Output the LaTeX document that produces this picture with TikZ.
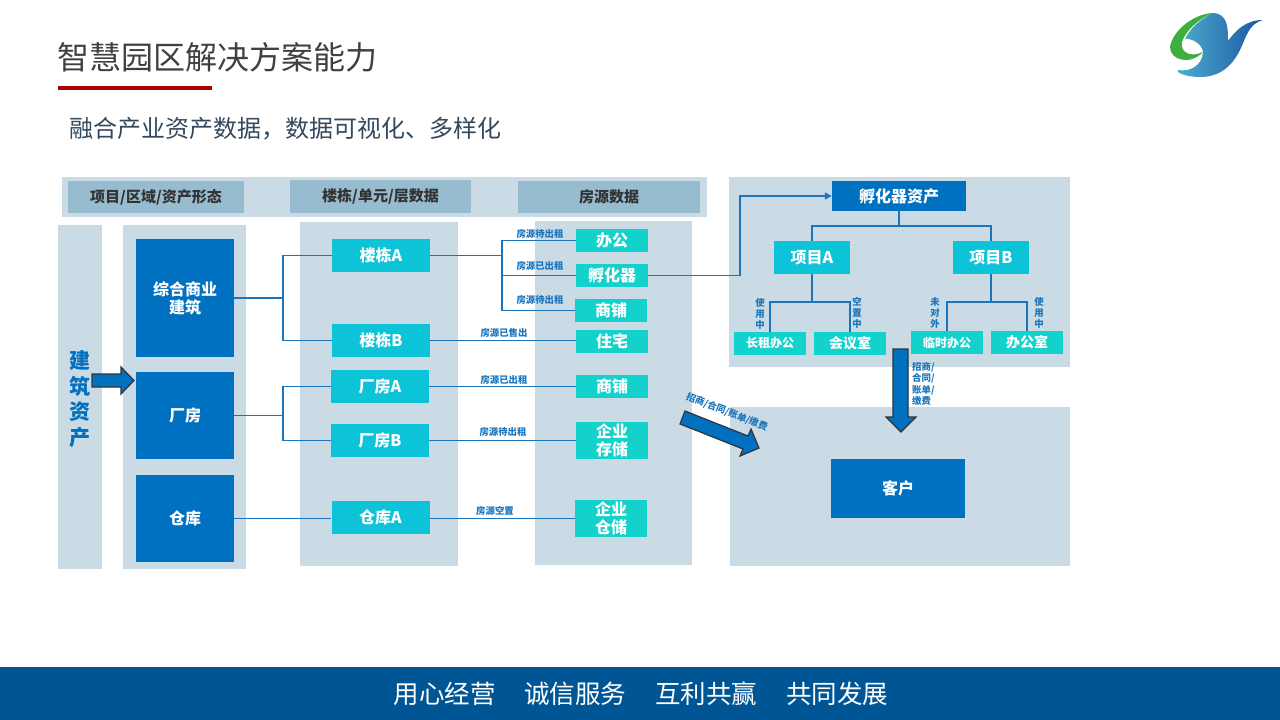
\documentclass[tikz,border=0pt]{standalone}
\usepackage{fontspec}
\setmainfont{Noto Sans CJK SC}
\usetikzlibrary{arrows.meta, positioning}
\definecolor{panelc}{HTML}{CADBE6}
\definecolor{headc}{HTML}{97BBCF}
\definecolor{darkc}{HTML}{0070C0}
\definecolor{tealc}{HTML}{0DC3D8}
\definecolor{mintc}{HTML}{13D1CB}
\definecolor{linec}{HTML}{1B75BC}
\definecolor{footc}{HTML}{005695}
\definecolor{titlec}{HTML}{404040}
\definecolor{subc}{HTML}{34495E}
\definecolor{leafc}{HTML}{3DAE3F}
\definecolor{birdl}{HTML}{4FB0CE}
\definecolor{birdr}{HTML}{1C55A5}
\begin{document}
\begin{tikzpicture}[
    x=1pt, y=-1pt,
    panel/.style={fill=panelc, draw=none},
    box/.style={align=center, inner sep=0pt, text=white, font=\fontsize{16}{18}\selectfont\bfseries},
    head/.style={box, fill=headc, text=black!80, font=\fontsize{15}{17}\selectfont\bfseries},
    asset/.style={box, fill=darkc, minimum width=98pt},
    build/.style={box, fill=tealc, minimum width=98pt, minimum height=33pt},
    room/.style={box, fill=mintc, minimum width=72pt, minimum height=23pt},
    proj/.style={box, fill=tealc, minimum width=76pt, minimum height=33pt},
    lab/.style={inner sep=0pt, text=linec, align=center, font=\fontsize{9.4}{11}\selectfont\bfseries},
    conn/.style={linec, line width=1.5pt},
    fat/.style={fill=darkc, draw=black!80, line width=1.2pt, line join=miter},
  ]
    \useasboundingbox (0,0) rectangle (1280,720);
    % title
    \node[anchor=west, inner sep=0pt, text=titlec, font=\fontsize{32}{36}\selectfont] (title) at (57,57) {智慧园区解决方案能力};
    \fill[fill=red!65!black] (58,86) rectangle (212,90);
    \node[anchor=west, inner sep=0pt, text=subc, font=\fontsize{24}{28}\selectfont] (sub) at (69,129) {融合产业资产数据，数据可视化、多样化};

    % logo
    \fill[leafc]
      (1212,13) .. controls (1190,15) and (1172,33) .. (1170,47)
      .. controls (1170,60) and (1190,66) .. (1203,52)
      .. controls (1190,58) and (1180,52) .. (1182,42)
      .. controls (1186,30) and (1198,20) .. (1212,13) -- cycle;
    \shade[left color=birdl, right color=birdr]
      (1212,13) .. controls (1228,13) and (1228,28) .. (1228,41)
      .. controls (1236,30) and (1246,20) .. (1263,20)
      .. controls (1248,24) and (1246,38) .. (1240,50)
      .. controls (1232,66) and (1220,77) .. (1200,77)
      .. controls (1185,77) and (1175,72) .. (1178,70)
      .. controls (1190,72) and (1202,66) .. (1203,52)
      .. controls (1202,44) and (1192,38) .. (1185,39)
      .. controls (1190,28) and (1200,20) .. (1212,13) -- cycle;

    % panels
    \fill[panel] (62,177) rectangle (707,217);
    \fill[panel] (58,225) rectangle (102,569);
    \fill[panel] (123,225) rectangle (246,569);
    \fill[panel] (300,222) rectangle (458,566);
    \fill[panel] (535,221) rectangle (692,565);
    \fill[panel] (729,177) rectangle (1070,367);
    \fill[panel] (730,407) rectangle (1070,566);

    % header row
    \node[head, minimum width=176pt, minimum height=32pt] (h1) at (156,197) {项目/区域/资产形态};
    \node[head, minimum width=181pt, minimum height=33pt] (h2) at (380.5,196.5) {楼栋/单元/层数据};
    \node[head, minimum width=182pt, minimum height=32pt] (h3) at (609,197) {房源数据};

    \node[text=darkc, inner sep=0pt, align=center, font=\fontsize{21}{25.5}\selectfont\bfseries] (side) at (80,399) {建\\筑\\资\\产};

    % assets
    \node[asset, minimum height=118pt] (comp) at (185,298) {综合商业\\建筑};
    \node[asset, minimum height=87pt] (plant) at (185,415.5) {厂房};
    \node[asset, minimum height=87pt] (store) at (185,518.5) {仓库};

    % buildings
    \node[build] (ba) at (381,255.5) {楼栋A};
    \node[build] (bb) at (381,340.5) {楼栋B};
    \node[build] (pa) at (380,386.5) {厂房A};
    \node[build] (pb) at (380,440.5) {厂房B};
    \node[build] (wa) at (380.5,517.5) {仓库A};

    % rooms
    \node[room] (r1) at (612,240.5) {办公};
    \node[room] (r2) at (612,275.5) {孵化器};
    \node[room] (r3) at (611,310.5) {商铺};
    \node[room] (r4) at (612,341.5) {住宅};
    \node[room] (r5) at (612,386.5) {商铺};
    \node[room, minimum height=37pt] (r6) at (612,440.5) {企业\\存储};
    \node[room, minimum height=37pt] (r7) at (611,518.5) {企业\\仓储};

    % incubator side
    \node[box, fill=darkc, minimum width=134pt, minimum height=30pt] (inc) at (899,196) {孵化器资产};
    \node[proj] (pja) at (812,257.5) {项目A};
    \node[proj] (pjb) at (991,257.5) {项目B};
    \node[room, font=\fontsize{12}{14}\selectfont\bfseries] (u1) at (770,343.5) {长租办公};
    \node[room, font=\fontsize{14}{16}\selectfont\bfseries] (u2) at (850,343.5) {会议室};
    \node[room, font=\fontsize{12}{14}\selectfont\bfseries] (u3) at (947,342.5) {临时办公};
    \node[room, font=\fontsize{14}{16}\selectfont\bfseries] (u4) at (1027,342.5) {办公室};
    \node[box, fill=darkc, minimum width=134pt, minimum height=59pt] (cust) at (898,488.5) {客户};

    % connectors
    \coordinate (jc) at (283,298);
    \coordinate (jp) at (283,415.5);
    \coordinate (jb) at (502,255.5);
    \coordinate (ji) at (899,226);
    \coordinate (ja) at (812,302);
    \coordinate (jd) at (991,302);
    \draw[conn] (comp.east) -- (jc);
    \draw[conn] (ba.west) -| (jc) |- (bb.west);
    \draw[conn] (plant.east) -- (jp);
    \draw[conn] (pa.west) -| (jp) |- (pb.west);
    \draw[conn] (store.east) -- (store.east -| wa.west);
    \draw[conn] (ba.east) -- (jb);
    \draw[conn] (r1.west) -| (jb) |- (r3.west);
    \draw[conn] (r2.west) -- (r2.west -| jb);
    \draw[conn] (bb.east) -- (bb.east -| r4.west);
    \draw[conn] (pa.east) -- (r5.west);
    \draw[conn] (pb.east) -- (r6.west);
    \draw[conn] (r7.west) -- (r7.west -| wa.east);
    \draw[conn, -{Triangle[length=7pt, width=7pt]}] (r2.east) -- ++(92,0) |- (inc.west);
    \draw[conn] (inc.south) -- (ji);
    \draw[conn] (pja.north) |- (ji) -| (pjb.north);
    \draw[conn] (pja.south) -- (ja);
    \draw[conn] (u1.north) |- (ja) -| (u2.north);
    \draw[conn] (pjb.south) -- (jd);
    \draw[conn] (u3.north) |- (jd) -| (u4.north);

    % connector labels
    \node[lab] (l1) at (540,234) {房源待出租};
    \node[lab] (l2) at (540,266) {房源已出租};
    \node[lab] (l3) at (540,300) {房源待出租};
    \node[lab] (l4) at (504,333) {房源已售出};
    \node[lab] (l5) at (504,380) {房源已出租};
    \node[lab] (l6) at (503,432) {房源待出租};
    \node[lab] (l7) at (495,511) {房源空置};
    \node[lab] (v1) at (760,314) {使\\用\\中};
    \node[lab] (v2) at (857,313) {空\\置\\中};
    \node[lab] (v3) at (935,313) {未\\对\\外};
    \node[lab] (v4) at (1039,313) {使\\用\\中};
    \node[lab, align=left, anchor=north west, font=\fontsize{9.4}{11.4}\selectfont\bfseries] (l8) at (912,362) {招商/\\合同/\\账单/\\缴费};
    \node[lab, rotate=-21] (l9) at (727,412) {招商/合同/账单/缴费};

    % fat arrows
    \draw[fat] (92,374) -- (121,374) -- (121,367) -- (134,380.5) -- (121,394) -- (121,387) -- (92,387) -- cycle;
    \draw[fat] (893,349) -- (908,349) -- (908,417) -- (916,417) -- (901,432) -- (886,417) -- (893,417) -- cycle;
    \draw[fat] (685,411) -- (748,436) -- (751,429) -- (759,448) -- (740,456) -- (743,449) -- (680,424) -- cycle;

    % footer
    \fill[footc] (0,667) rectangle (1280,720);
    \node[text=white, inner sep=0pt, font=\fontsize{25.5}{28}\selectfont] (foot) at (641,694) {用心经营\hspace{29pt}诚信服务\hspace{29pt}互利共赢\hspace{29pt}共同发展};
\end{tikzpicture}
\end{document}
